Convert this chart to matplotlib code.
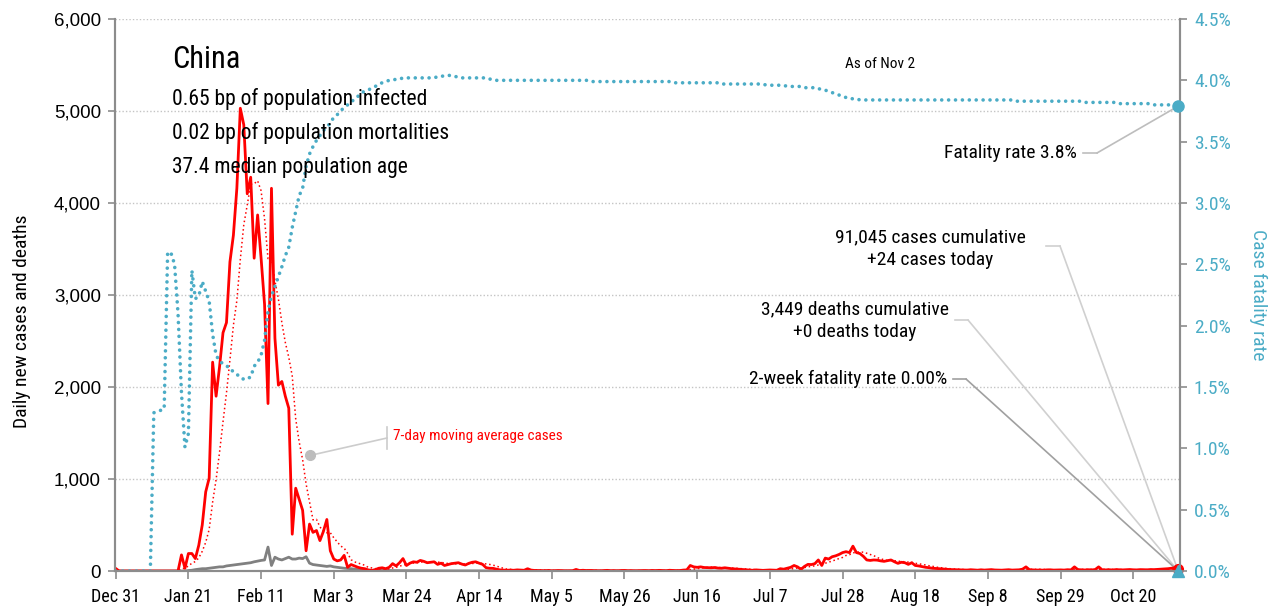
import numpy as np
import pandas as pd
import matplotlib
matplotlib.use("Agg")
import matplotlib.pyplot as plt
from matplotlib import font_manager as fm
from matplotlib.lines import Line2D

# 字型: condensed family if one is installed
names = {f.name for f in fm.fontManager.ttflist}
cond = next((n for n in ["Roboto Condensed", "Liberation Sans Narrow", "DejaVu Sans Condensed",
                         "Open Sans Condensed"] if n in names), "DejaVu Sans")
plain = "Liberation Sans" if "Liberation Sans" in names else "DejaVu Sans"

# 每日資料 Dec 31 2019 - Nov 2 2020
dates = pd.date_range("2019-12-31", "2020-11-02", freq="D")

cases_dec = [27]
cases_jan = [0, 0, 0, 0, 0, 0, 0, 0, 0, 0, 0, 0, 0, 0, 0, 0, 0, 0,
             175, 30, 190, 190, 135, 280, 500, 860, 1010, 2270, 1900, 2220, 2590]
cases_feb = [2700, 3360, 3650, 4160, 5030, 4850, 4100, 4280, 3400, 3870,
             3400, 2900, 1820, 4160, 2530, 2020, 2060, 1900, 1770, 400,
             900, 780, 660, 220, 510, 420, 440, 330, 430]
cases_mar = [560, 220, 130, 110, 120, 170, 40, 70, 55, 40,
             30, 25, 10, 5, 15, 30, 35, 25, 40, 80,
             55, 90, 135, 60, 85, 100, 95, 115, 105, 90, 95]
cases_apr = [100, 72, 85, 60, 70, 80, 85, 90, 75, 65,
             83, 95, 100, 85, 72, 36, 30, 29, 20, 12,
             10, 8, 10, 8, 12, 10, 8, 25, 10, 6]
cases_may = [5, 4, 3, 6, 2, 4, 5, 3, 2, 2, 3, 17, 5, 8, 5, 6, 4, 3, 2, 5,
             7, 3, 4, 2, 5, 6, 3, 4, 2, 3, 4]
cases_jun = [5, 3, 6, 4, 7, 5, 3, 8, 6, 4, 5, 10, 12,
             60, 45, 40, 45, 38, 36, 35, 38, 32, 30, 35, 30, 25, 22, 18, 15, 12]
cases_jul = [10, 8, 12, 10, 7, 9, 11, 10, 8,
             25, 20, 30, 40, 60, 45, 18, 50, 72, 70, 80,
             120, 60, 140, 130, 155, 165, 180, 200, 210, 200, 270]
cases_aug = [200, 190, 160, 120, 115, 120, 118, 110, 105, 112,
             120, 100, 83, 95, 90, 72, 90, 60, 55, 47,
             40, 36, 30, 28, 25, 22, 18, 16, 15, 14, 12]
cases_sep = [12, 10, 14, 11, 9, 13, 10, 12, 15, 11,
             10, 9, 12, 14, 10, 11, 13, 20, 45, 14,
             12, 10, 11, 9, 12, 13, 10, 11, 12, 10]
cases_oct = [14, 12, 45, 15, 13, 11, 14, 12, 16, 45,
             13, 12, 14, 11, 15, 13, 12, 14, 16, 13,
             12, 15, 14, 13, 16, 15, 18, 20, 22, 25, 30]
cases_nov = [35, 24]

deaths_dec = [0]
deaths_jan = [0, 0, 0, 0, 0, 0, 0, 0, 0, 0, 1, 0, 0, 0, 0, 0, 0, 0, 0, 0,
              5, 8, 15, 20, 25, 25, 30, 35, 40, 45, 45]
deaths_feb = [55, 60, 65, 70, 75, 80, 85, 90, 100, 108,
              115, 120, 260, 60, 150, 130, 120, 135, 150, 130,
              130, 140, 135, 155, 85, 70, 65, 60, 55]
deaths_mar = [50, 55, 45, 40, 35, 30, 28, 25, 20, 15,
              12, 10, 10, 8, 8, 6, 6, 5, 5, 4,
              4, 4, 3, 3, 3, 3, 3, 2, 2, 2, 2]
deaths_apr = [2, 2, 2, 2, 2, 2, 2, 1, 1, 1, 1, 1, 1, 1, 1, 1, 0, 0, 0, 0,
              0, 0, 0, 0, 0, 0, 0, 0, 0, 0]
deaths_may = [0] * 31
deaths_jun = [0] * 30
deaths_jul = [0] * 31
deaths_aug = [0] * 31
deaths_sep = [0] * 30
deaths_oct = [0] * 31
deaths_nov = [0, 0]

# 病死率 (%)
cfr_dec = [0.0]
cfr_jan = [0, 0, 0, 0, 0, 0, 0, 0, 0, 0,
           1.29, 1.30, 1.31, 1.32, 2.60, 2.59, 2.50, 2.10, 1.45, 1.01,
           1.12, 2.45, 2.22, 2.24, 2.36, 2.28, 2.20, 1.93, 1.76, 1.71, 1.69]
cfr_feb = [1.67, 1.66, 1.62, 1.60, 1.59, 1.56, 1.57, 1.58, 1.67, 1.70,
           1.76, 1.88, 2.12, 2.24, 2.32, 2.40, 2.48, 2.57, 2.64, 2.80,
           2.93, 3.06, 3.12, 3.30, 3.40, 3.46, 3.51, 3.55, 3.59]
cfr_mar = [3.62, 3.65, 3.70, 3.72, 3.75, 3.78, 3.80, 3.82, 3.85, 3.87,
           3.90, 3.91, 3.92, 3.94, 3.95, 3.97, 3.98, 3.99, 4.00, 4.00,
           4.01, 4.01, 4.02, 4.02, 4.02, 4.02, 4.02, 4.02, 4.02, 4.02, 4.02]
cfr_apr = [4.02, 4.03, 4.03, 4.04, 4.04, 4.04, 4.03, 4.03, 4.02, 4.02,
           4.02, 4.02, 4.02, 4.02, 4.02, 4.02, 4.01, 4.01, 4.00, 4.00,
           4.00, 4.00, 4.00, 4.00, 4.00, 4.00, 4.00, 4.00, 4.00, 4.00]
cfr_may = [4.00, 4.00, 4.00, 4.00, 4.00, 4.00, 4.00, 4.00, 4.00, 4.00,
           4.00, 4.00, 4.00, 4.00, 4.00, 3.99, 3.99, 3.99, 3.99, 3.99,
           3.99, 3.99, 3.99, 3.99, 3.99, 3.99, 3.99, 3.99, 3.99, 3.99, 3.99]
cfr_jun = [3.99, 3.99, 3.99, 3.99, 3.99, 3.99, 3.99, 3.99, 3.98, 3.98,
           3.98, 3.98, 3.98, 3.98, 3.98, 3.98, 3.98, 3.98, 3.98, 3.98,
           3.98, 3.98, 3.97, 3.97, 3.97, 3.97, 3.97, 3.97, 3.97, 3.97]
cfr_jul = [3.97, 3.97, 3.97, 3.97, 3.97, 3.96, 3.96, 3.96, 3.96, 3.96,
           3.96, 3.95, 3.95, 3.95, 3.95, 3.95, 3.94, 3.94, 3.94, 3.94,
           3.93, 3.93, 3.92, 3.91, 3.90, 3.89, 3.88, 3.87, 3.86, 3.85, 3.85]
cfr_aug = [3.85, 3.84, 3.84, 3.84, 3.84, 3.84, 3.84, 3.84, 3.84, 3.84,
           3.84, 3.84, 3.84, 3.84, 3.84, 3.84, 3.84, 3.84, 3.84, 3.84,
           3.84, 3.84, 3.84, 3.84, 3.84, 3.84, 3.84, 3.84, 3.84, 3.84, 3.84]
cfr_sep = [3.84, 3.84, 3.84, 3.84, 3.84, 3.84, 3.84, 3.84, 3.84, 3.84,
           3.84, 3.84, 3.84, 3.84, 3.84, 3.83, 3.83, 3.83, 3.83, 3.83,
           3.83, 3.83, 3.83, 3.83, 3.83, 3.83, 3.83, 3.83, 3.83, 3.83]
cfr_oct = [3.83, 3.83, 3.83, 3.83, 3.83, 3.82, 3.82, 3.82, 3.82, 3.82,
           3.82, 3.82, 3.82, 3.82, 3.82, 3.81, 3.81, 3.81, 3.81, 3.81,
           3.81, 3.81, 3.81, 3.81, 3.81, 3.80, 3.80, 3.80, 3.80, 3.80, 3.80]
cfr_nov = [3.79, 3.79]

cases = np.array(cases_dec + cases_jan + cases_feb + cases_mar + cases_apr + cases_may
                 + cases_jun + cases_jul + cases_aug + cases_sep + cases_oct + cases_nov, float)
deaths = np.array(deaths_dec + deaths_jan + deaths_feb + deaths_mar + deaths_apr + deaths_may
                  + deaths_jun + deaths_jul + deaths_aug + deaths_sep + deaths_oct + deaths_nov, float)
cfr = np.array(cfr_dec + cfr_jan + cfr_feb + cfr_mar + cfr_apr + cfr_may
               + cfr_jun + cfr_jul + cfr_aug + cfr_sep + cfr_oct + cfr_nov, float)

ma7 = pd.Series(cases).rolling(7).mean().values
two_week = deaths[-14:].sum() / cases[-14:].sum() * 100

RED = "#ff0000"
GREY = "#808080"
TEAL = "#4bacc6"
SPINE = "#8c8c8c"

W, H = 1274, 613
def fx(x):
    return x / W
def fy(y):
    return 1 - y / H

fig = plt.figure(figsize=(W / 100, H / 100), dpi=100)
ax = fig.add_axes([fx(115), 42 / H, (1180 - 115) / W, (571 - 19) / H])
ax2 = ax.twinx()

# 繪製曲線
ax.plot(dates, deaths, color=GREY, lw=2, zorder=3)
ax.plot(dates, ma7, color=RED, lw=1.1, linestyle=(0, (1, 1.8)), zorder=4)
ax.plot(dates, cases, color=RED, lw=2, zorder=5)
ax.plot(dates[-1], cases[-1], "o", color=RED, ms=7, clip_on=False, zorder=6)

ax2.plot(dates, cfr, color=TEAL, lw=2.6, linestyle=(0, (0.01, 1.9)),
         dash_capstyle="round")
ax2.plot(dates[-1], cfr[-1], "o", color=TEAL, ms=8, clip_on=False, zorder=6)
ax2.plot(dates[-1], two_week, "^", color=TEAL, ms=9, clip_on=False, zorder=6)

ax.set_xlim(dates[0] - pd.Timedelta(hours=5), dates[-1] + pd.Timedelta(hours=12))
ax.set_ylim(0, 6000)
ax2.set_ylim(0, 4.5)

xt = pd.date_range(dates[0], dates[-1], freq="21D")
ax.set_xticks(xt)
ax.set_xticklabels([f"{d:%b} {d.day}" for d in xt], fontfamily=cond, fontsize=13)
ax.set_yticks(range(0, 6001, 1000))
ax.set_yticklabels([f"{v:,}" for v in range(0, 6001, 1000)], fontfamily=plain, fontsize=13.5)
ax2.set_yticks(np.arange(0, 4.51, 0.5))
ax2.set_yticklabels([f"{v:.1f}%" for v in np.arange(0, 4.51, 0.5)], fontfamily=cond,
                    fontsize=14, color=TEAL)

ax.grid(axis="y", color="#c4c4c4", linestyle=(0, (1, 1.5)), lw=1)
ax.set_axisbelow(True)
for a in (ax, ax2):
    a.spines["top"].set_visible(False)
    for s in ("left", "right", "bottom"):
        a.spines[s].set_color(SPINE)
        a.spines[s].set_linewidth(1.5)
ax.tick_params(axis="x", length=6, width=1.2, color=SPINE, pad=6)
ax.tick_params(axis="y", length=5, width=1.2, color=SPINE, pad=5)
ax2.tick_params(axis="y", length=5, width=1.2, color=SPINE, pad=5)

# 軸標題
fig.text(fx(22), fy(321), "Daily new cases and deaths", rotation=90, ha="center", va="center",
         fontfamily=cond, fontsize=14)
fig.text(fx(1258), fy(295), "Case fatality rate", rotation=270, ha="center", va="center",
         fontfamily=cond, fontsize=14, color=TEAL)

# 左上角說明
fig.text(fx(172), fy(60), "China", fontfamily=cond, fontsize=22, va="center")
fig.text(fx(172), fy(99), "0.65 bp of population infected", fontfamily=cond, fontsize=15.5, va="center")
fig.text(fx(172), fy(133), "0.02 bp of population mortalities", fontfamily=cond, fontsize=15.5, va="center")
fig.text(fx(172), fy(168), "37.4 median population age", fontfamily=cond, fontsize=15.5, va="center")
fig.text(fx(880), fy(64), "As of Nov 2", fontfamily=cond, fontsize=11, ha="center", va="center")

# 註解與引線
def leader(x_text, y_text, x_stub, target_ax, xy, color):
    fig.add_artist(Line2D([fx(x_text), fx(x_stub)], [fy(y_text), fy(y_text)],
                          transform=fig.transFigure, color=color, lw=1.2))
    target_ax.annotate("", xy=xy, xycoords="data", xytext=(fx(x_stub), fy(y_text)),
                       textcoords="figure fraction", annotation_clip=False,
                       arrowprops=dict(arrowstyle="-", color=color, lw=1.2,
                                       shrinkA=0, shrinkB=0))

fig.text(fx(1077), fy(153), "Fatality rate 3.8%", fontfamily=cond, fontsize=14, ha="right", va="center")
leader(1083, 153, 1097, ax2, (dates[-1], cfr[-1]), "#bdbdbd")

fig.text(fx(930), fy(249), "91,045 cases cumulative\n+24 cases today", fontfamily=cond, fontsize=14,
         ha="center", va="center", linespacing=1.35)
leader(1046, 246, 1060, ax, (dates[-1], 0), "#d0d0d0")

fig.text(fx(855), fy(321), "3,449 deaths cumulative\n+0 deaths today", fontfamily=cond, fontsize=14,
         ha="center", va="center", linespacing=1.35)
leader(955, 320, 968, ax, (dates[-1], 0), "#d0d0d0")

fig.text(fx(947), fy(379), "2-week fatality rate 0.00%", fontfamily=cond, fontsize=14, ha="right", va="center")
leader(953, 379, 966, ax, (dates[-1], 0), "#a0a0a0")

fig.text(fx(393), fy(436), "7-day moving average cases", fontfamily=cond, fontsize=11, color=RED,
         ha="left", va="center")
fig.add_artist(Line2D([fx(387), fx(387)], [fy(427), fy(449)], transform=fig.transFigure,
                      color="#cccccc", lw=1.2))
fig.add_artist(Line2D([fx(387), fx(312)], [fy(438), fy(455)], transform=fig.transFigure,
                      color="#cccccc", lw=1.2))
fig.add_artist(Line2D([fx(310)], [fy(455)], transform=fig.transFigure, marker="o", ms=7,
                      color="#bdbdbd", lw=0))

plt.savefig("out.png", dpi=100)
plt.close()
